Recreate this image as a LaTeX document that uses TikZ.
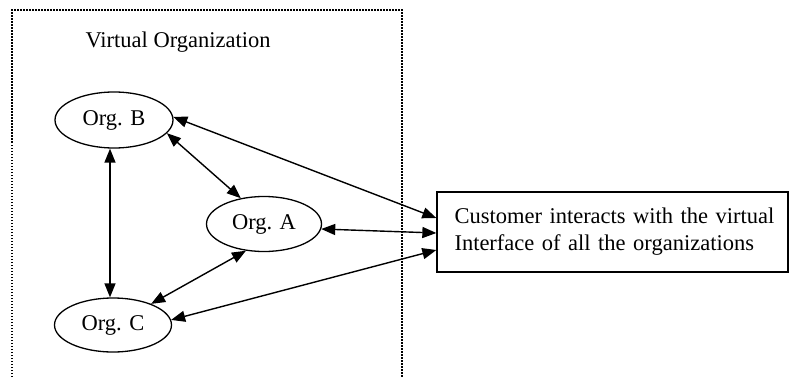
\documentclass[tikz,border=0pt]{standalone}
\usepackage{fontspec}
\setmainfont{Liberation Serif}
\usetikzlibrary{shapes.geometric,arrows.meta}
\begin{document}
\begin{tikzpicture}[x=1pt,y=-1pt,
  org/.style={draw,ellipse,line width=1.3pt,inner sep=0pt,font=\fontsize{22.5}{27}\selectfont},
  conn/.style={line width=1.4pt,{Triangle[length=14pt,width=11pt]}-{Triangle[length=14pt,width=11pt]}},
  lbl/.style={font=\fontsize{22.5}{27}\selectfont}]
\useasboundingbox (0,0) rectangle (791,377);
\fill[white] (0,0) rectangle (791,377);
\draw[line width=1.1pt,dash pattern=on 1.5pt off 1.5pt] (12,377) |- (402,10) -- (402,377);
\node[lbl,anchor=base west] (title) at (82,48) {Virtual Organization};
\node[org,minimum width=118pt,minimum height=56pt] (B) at (114,120) {Org. B};
\node[org,minimum width=115pt,minimum height=55pt] (A) at (264,224) {Org. A};
\node[org,minimum width=117pt,minimum height=54pt] (C) at (113,325) {Org. C};
\node[draw,line width=1.3pt,lbl,minimum height=80pt,text width=324pt,inner xsep=13.5pt,align=left] (R) at (612.5,232) {\hspace*{4pt}Customer interacts with the virtual\\\hspace*{4pt}Interface of all the organizations};
\draw[conn] ([xshift=-4pt]B.south) -- ([xshift=-3pt]C.north);
\draw[conn] (B.-14) -- (A.132);
\draw[conn] (A.236) -- (C.29);
\draw[conn] (B.3) -- ([yshift=14pt]R.west);
\draw[conn] (A.-5) -- ([yshift=-1pt]R.west);
\draw[conn] (C.5) -- ([yshift=-18pt]R.west);
\end{tikzpicture}
\end{document}
